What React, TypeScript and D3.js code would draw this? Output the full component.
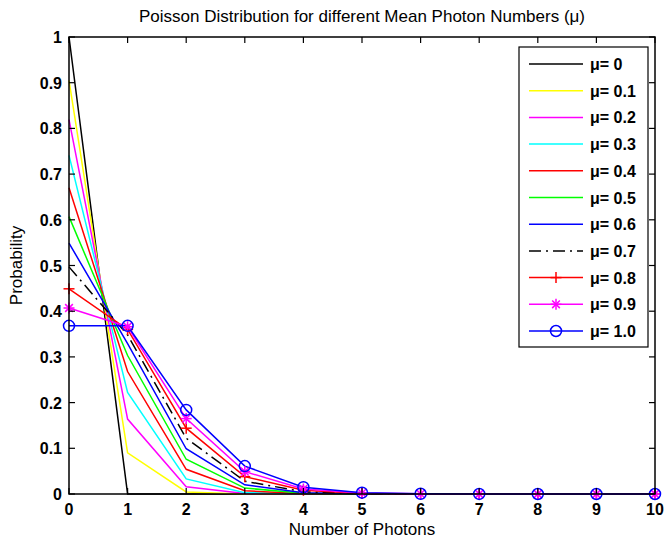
import React from 'react'
import * as d3 from 'd3'

const width = 665
const height = 543

const plot = { left: 69, right: 655, top: 37, bottom: 494 }

const photonNumbers = [0, 1, 2, 3, 4, 5, 6, 7, 8, 9, 10]
const xTicks = [0, 1, 2, 3, 4, 5, 6, 7, 8, 9, 10]
const yTicks = [0, 0.1, 0.2, 0.3, 0.4, 0.5, 0.6, 0.7, 0.8, 0.9, 1]

const labels = ['μ= 0', 'μ= 0.1', 'μ= 0.2', 'μ= 0.3', 'μ= 0.4', 'μ= 0.5', 'μ= 0.6', 'μ= 0.7', 'μ= 0.8', 'μ= 0.9', 'μ= 1.0']

// probability values, one row per mean photon number
const mu00 = [1, 0, 0, 0, 0, 0, 0, 0, 0, 0, 0]
const mu01 = [0.905, 0.09, 0.0045, 0.0002, 0, 0, 0, 0, 0, 0, 0]
const mu02 = [0.819, 0.164, 0.016, 0.001, 0, 0, 0, 0, 0, 0, 0]
const mu03 = [0.741, 0.222, 0.033, 0.003, 0.0003, 0, 0, 0, 0, 0, 0]
const mu04 = [0.67, 0.268, 0.054, 0.007, 0.0007, 0, 0, 0, 0, 0, 0]
const mu05 = [0.607, 0.303, 0.076, 0.013, 0.0016, 0.0002, 0, 0, 0, 0, 0]
const mu06 = [0.549, 0.329, 0.099, 0.02, 0.003, 0.0004, 0, 0, 0, 0, 0]
const mu07 = [0.497, 0.348, 0.122, 0.028, 0.005, 0.0007, 0.0001, 0, 0, 0, 0]
const mu08 = [0.449, 0.36, 0.144, 0.038, 0.008, 0.0012, 0.0002, 0, 0, 0, 0]
const mu09 = [0.407, 0.366, 0.165, 0.049, 0.011, 0.002, 0.0003, 0, 0, 0, 0]
const mu10 = [0.368, 0.368, 0.184, 0.061, 0.015, 0.003, 0.0005, 0.0001, 0, 0, 0]

const seriesValues = [mu00, mu01, mu02, mu03, mu04, mu05, mu06, mu07, mu08, mu09, mu10]

const styles = [
  { color: '#000000', dash: null, marker: null },
  { color: '#ffff00', dash: null, marker: null },
  { color: '#ff00ff', dash: null, marker: null },
  { color: '#00ffff', dash: null, marker: null },
  { color: '#ff0000', dash: null, marker: null },
  { color: '#00ff00', dash: null, marker: null },
  { color: '#0000ff', dash: null, marker: null },
  { color: '#000000', dash: '12,5,2,5', marker: null },
  { color: '#ff0000', dash: null, marker: 'plus' },
  { color: '#ff00ff', dash: null, marker: 'star' },
  { color: '#0000ff', dash: null, marker: 'circle' },
]

const lineWidth = 1.5

const tickFont = {
  fontFamily: 'Liberation Sans, Arial, sans-serif',
  fontWeight: 'bold' as const,
  fontSize: '16px',
}

const labelFont = {
  fontFamily: 'Liberation Sans, Arial, sans-serif',
  fontSize: '17px',
}

function Marker({ type, x, y, color }) {
  const r = 5.5
  if (type === 'plus') {
    return (
      <g stroke={color} strokeWidth={lineWidth}>
        <line x1={x - r} x2={x + r} y1={y} y2={y} />
        <line x1={x} x2={x} y1={y - r} y2={y + r} />
      </g>
    )
  }
  if (type === 'star') {
    const d = r * 0.7
    return (
      <g stroke={color} strokeWidth={lineWidth}>
        <line x1={x - r} x2={x + r} y1={y} y2={y} />
        <line x1={x} x2={x} y1={y - r} y2={y + r} />
        <line x1={x - d} x2={x + d} y1={y - d} y2={y + d} />
        <line x1={x - d} x2={x + d} y1={y + d} y2={y - d} />
      </g>
    )
  }
  if (type === 'circle') {
    return <circle cx={x} cy={y} r={r} fill="none" stroke={color} strokeWidth={lineWidth} />
  }
  return null
}

export default function App() {
  const x = d3.scaleLinear().domain([0, 10]).range([plot.left, plot.right])
  const y = d3.scaleLinear().domain([0, 1]).range([plot.bottom, plot.top])

  const line = d3
    .line<number>()
    .x((d, i) => x(photonNumbers[i]))
    .y((d) => y(d))

  const legend = { left: 519, right: 648, top: 47, bottom: 347, firstRow: 64, rowStep: 26.7 }

  return (
    <svg width={width} height={height} style={{ position: 'absolute', left: 0, top: 0, background: '#fff' }}>
      <rect x={0} y={0} width={width} height={height} fill="#fff" />

      <text x={(plot.left + plot.right) / 2} y={22} textAnchor="middle" style={labelFont}>
        Poisson Distribution for different Mean Photon Numbers (μ)
      </text>

      {seriesValues.map((vals, i) => (
        <path
          key={'line-' + i}
          d={line(vals)}
          fill="none"
          stroke={styles[i].color}
          strokeWidth={lineWidth}
          strokeDasharray={styles[i].dash || undefined}
        />
      ))}
      {seriesValues.map((vals, i) =>
        styles[i].marker ? (
          <g key={'markers-' + i}>
            {vals.map((v, j) => (
              <Marker key={j} type={styles[i].marker} x={x(photonNumbers[j])} y={y(v)} color={styles[i].color} />
            ))}
          </g>
        ) : null
      )}

      <rect
        x={plot.left}
        y={plot.top}
        width={plot.right - plot.left}
        height={plot.bottom - plot.top}
        fill="none"
        stroke="#000"
        strokeWidth={1.5}
      />

      {xTicks.map((t) => (
        <g key={'xt-' + t}>
          <line x1={x(t)} x2={x(t)} y1={plot.bottom} y2={plot.bottom - 6} stroke="#000" strokeWidth={1.2} />
          <line x1={x(t)} x2={x(t)} y1={plot.top} y2={plot.top + 6} stroke="#000" strokeWidth={1.2} />
          <text x={x(t)} y={515} textAnchor="middle" style={tickFont}>
            {t}
          </text>
        </g>
      ))}
      {yTicks.map((t) => (
        <g key={'yt-' + t}>
          <line x1={plot.left} x2={plot.left + 6} y1={y(t)} y2={y(t)} stroke="#000" strokeWidth={1.2} />
          <line x1={plot.right} x2={plot.right - 6} y1={y(t)} y2={y(t)} stroke="#000" strokeWidth={1.2} />
          <text x={plot.left - 7} y={y(t) + 6} textAnchor="end" style={tickFont}>
            {t}
          </text>
        </g>
      ))}

      <text x={(plot.left + plot.right) / 2} y={535} textAnchor="middle" style={labelFont}>
        Number of Photons
      </text>
      <text
        transform={`translate(22, ${(plot.top + plot.bottom) / 2}) rotate(-90)`}
        textAnchor="middle"
        style={labelFont}
      >
        Probability
      </text>

      <g>
        <rect
          x={legend.left}
          y={legend.top}
          width={legend.right - legend.left}
          height={legend.bottom - legend.top}
          fill="#fff"
          stroke="#000"
          strokeWidth={1.2}
        />
        {labels.map((label, i) => {
          const ry = legend.firstRow + i * legend.rowStep
          return (
            <g key={'lg-' + i}>
              <line
                x1={529}
                x2={583}
                y1={ry}
                y2={ry}
                stroke={styles[i].color}
                strokeWidth={lineWidth}
                strokeDasharray={styles[i].dash || undefined}
              />
              {styles[i].marker && <Marker type={styles[i].marker} x={556} y={ry} color={styles[i].color} />}
              <text x={590} y={ry + 6} style={tickFont}>
                {label}
              </text>
            </g>
          )
        })}
      </g>
    </svg>
  )
}
